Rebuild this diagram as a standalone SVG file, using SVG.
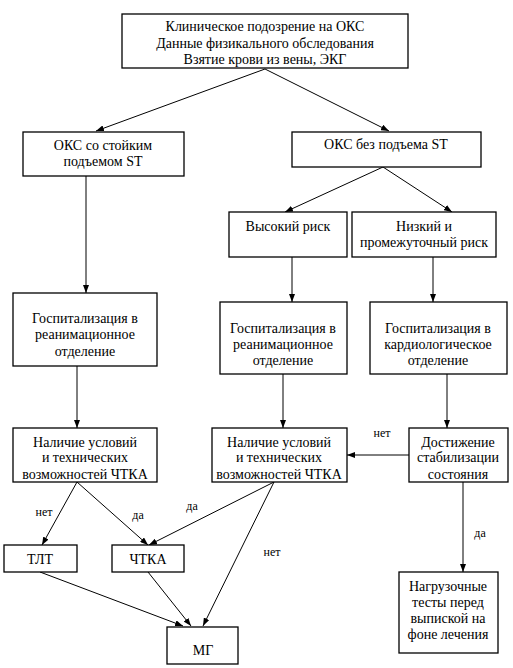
<svg xmlns="http://www.w3.org/2000/svg" width="513" height="668" viewBox="0 0 513 668">
<defs>
<marker id="ah" markerWidth="8" markerHeight="6" refX="8" refY="3" orient="auto" markerUnits="userSpaceOnUse">
<path d="M0,0 L8,3 L0,6 Z" fill="#000"/>
</marker>
<style>
rect{fill:#fff;stroke:#000;stroke-width:1.3}
text{font-family:"Liberation Serif","Times New Roman",serif;font-size:14px;fill:#000;text-anchor:middle}
.lbl{font-size:12px}
#connectors line{stroke:#000;stroke-width:1;marker-end:url(#ah)}
</style>
</defs>
<rect x="0" y="0" width="513" height="668" style="fill:#fff;stroke:none"/>
<g id="connectors">
<line x1="265" y1="69" x2="96" y2="131"/>
<line x1="265" y1="69" x2="389" y2="131"/>
<line x1="383" y1="167" x2="285" y2="212"/>
<line x1="383" y1="167" x2="452" y2="212"/>
<line x1="86" y1="176" x2="86" y2="293"/>
<line x1="292" y1="257" x2="292" y2="302"/>
<line x1="433" y1="257" x2="433" y2="302"/>
<line x1="77" y1="366" x2="77" y2="428"/>
<line x1="283" y1="374" x2="283" y2="428"/>
<line x1="447" y1="374" x2="447" y2="428"/>
<line x1="409" y1="455" x2="347" y2="455"/>
<line x1="77" y1="482" x2="42" y2="545"/>
<line x1="77" y1="482" x2="148" y2="545"/>
<line x1="274" y1="482" x2="149" y2="545"/>
<line x1="274" y1="482" x2="203" y2="626"/>
<line x1="40" y1="572" x2="183" y2="626"/>
<line x1="148" y1="572" x2="191" y2="626"/>
<line x1="463" y1="482" x2="463" y2="572"/>
<text class="lbl" x="382" y="437">нет</text>
<text class="lbl" x="44" y="516">нет</text>
<text class="lbl" x="138" y="519">да</text>
<text class="lbl" x="192" y="510">да</text>
<text class="lbl" x="272" y="556">нет</text>
<text class="lbl" x="480" y="537">да</text>
</g>
<g id="n1"><rect x="122" y="14" width="286" height="54"/>
<text x="265" y="31">Клиническое подозрение на ОКС</text>
<text x="265" y="48">Данные физикального обследования</text>
<text x="265" y="64">Взятие крови из вены, ЭКГ</text></g>
<g id="n2"><rect x="23" y="132" width="161" height="44"/>
<text x="103" y="150">ОКС со стойким</text>
<text x="103" y="166">подъемом ST</text></g>
<g id="n3"><rect x="292" y="132" width="189" height="35"/>
<text x="386" y="149">ОКС без подъема ST</text></g>
<g id="n4"><rect x="229" y="212" width="118" height="45"/>
<text x="288" y="231">Высокий риск</text></g>
<g id="n5"><rect x="352" y="212" width="144" height="45"/>
<text x="424" y="231">Низкий и</text>
<text x="424" y="247">промежуточный риск</text></g>
<g id="n6"><rect x="13" y="293" width="144" height="73"/>
<text x="85" y="323">Госпитализация в</text>
<text x="85" y="339">реанимационное</text>
<text x="85" y="356">отделение</text></g>
<g id="n7"><rect x="220" y="302" width="127" height="72"/>
<text x="283" y="333">Госпитализация в</text>
<text x="283" y="349">реанимационное</text>
<text x="283" y="365">отделение</text></g>
<g id="n8"><rect x="370" y="302" width="137" height="72"/>
<text x="438" y="333">Госпитализация в</text>
<text x="438" y="349">кардиологическое</text>
<text x="438" y="365">отделение</text></g>
<g id="n9"><rect x="13" y="428" width="144" height="54"/>
<text x="85" y="447">Наличие условий</text>
<text x="85" y="462">и технических</text>
<text x="85" y="479">возможностей ЧТКА</text></g>
<g id="n10"><rect x="212" y="428" width="135" height="54"/>
<text x="279" y="447">Наличие условий</text>
<text x="279" y="462">и технических</text>
<text x="279" y="479">возможностей ЧТКА</text></g>
<g id="n11"><rect x="409" y="428" width="99" height="54"/>
<text x="458" y="447">Достижение</text>
<text x="458" y="462">стабилизации</text>
<text x="458" y="479">состояния</text></g>
<g id="n12"><rect x="4" y="545" width="73" height="27"/>
<text x="40" y="564">ТЛТ</text></g>
<g id="n13"><rect x="112" y="545" width="72" height="27"/>
<text x="148" y="564">ЧТКА</text></g>
<g id="n14"><rect x="167" y="627" width="71" height="37"/>
<text x="203" y="655">МГ</text></g>
<g id="n15"><rect x="399" y="572" width="99" height="81"/>
<text x="448" y="591">Нагрузочные</text>
<text x="448" y="607">тесты перед</text>
<text x="448" y="623">выпиской на</text>
<text x="448" y="639">фоне лечения</text></g>
</svg>
